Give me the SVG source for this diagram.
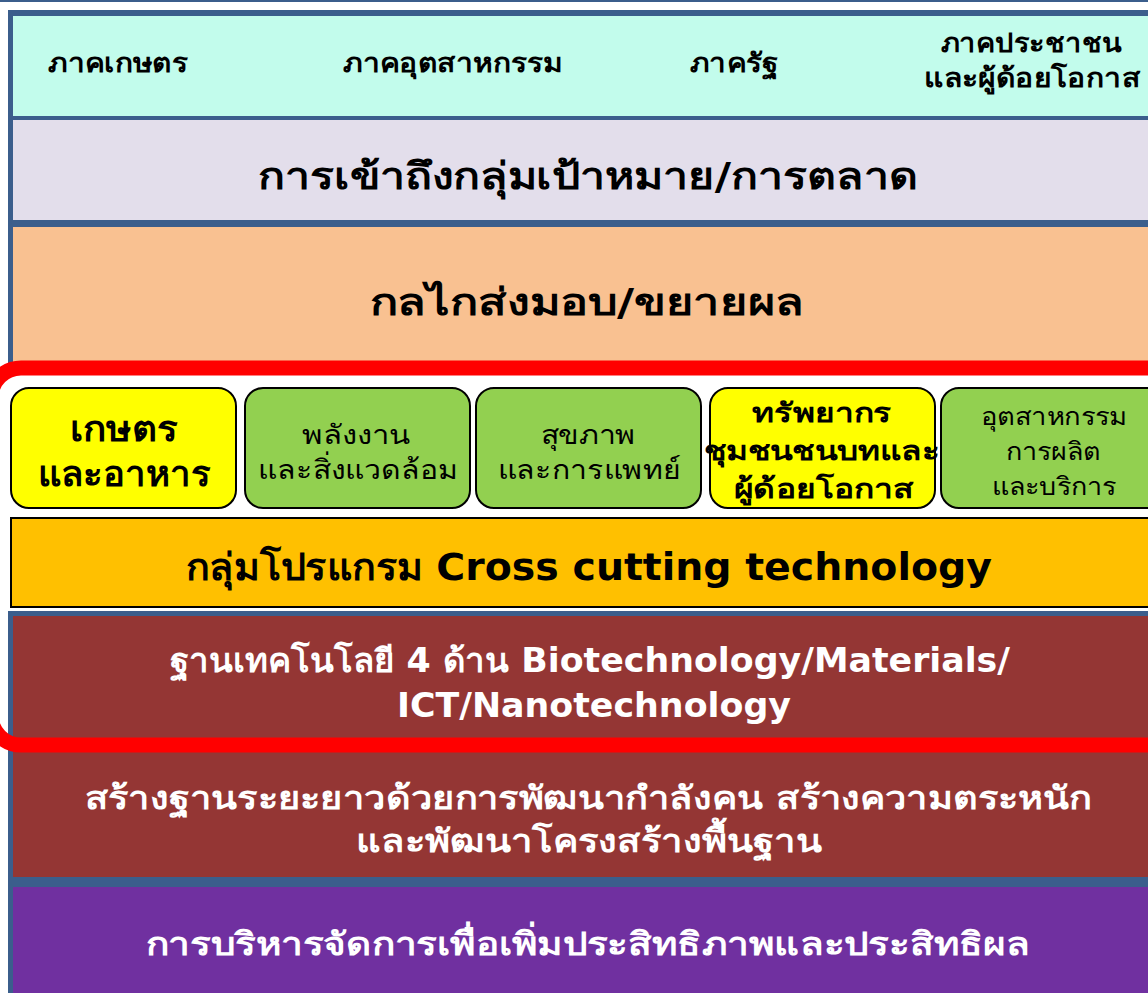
<svg xmlns="http://www.w3.org/2000/svg" width="1148" height="993" viewBox="0 0 1148 993">
  <style>
    .t { font-family: "Tahoma", "DejaVu Sans", "Noto Sans", sans-serif; text-anchor: middle; }
    .b { font-weight: bold; }
    .k { fill: #000000; }
    .w { fill: #FFFFFF; }
    .box { stroke: #000000; stroke-width: 2; }
    .yel { fill: #FFFF00; }
    .grn { fill: #92D050; }
  </style>
  <rect x="0" y="0" width="1148" height="993" fill="#FFFFFF"/>
  <rect x="0" y="0" width="1148" height="2" fill="#3B5E8C"/>

  <g id="band-sectors">
    <rect x="8" y="10" width="1160" height="357" fill="#3B5E8C"/>
    <rect x="13" y="16" width="1150" height="100" fill="#C2FCEC"/>
    <text class="t b k" x="118" y="72" font-size="26" textLength="140" lengthAdjust="spacingAndGlyphs">ภาคเกษตร</text>
    <text class="t b k" x="453" y="72" font-size="26" textLength="220" lengthAdjust="spacingAndGlyphs">ภาคอุตสาหกรรม</text>
    <text class="t b k" x="734" y="72" font-size="26" textLength="88" lengthAdjust="spacingAndGlyphs">ภาครัฐ</text>
    <text class="t b k" x="1031" y="52" font-size="26" textLength="181" lengthAdjust="spacingAndGlyphs">ภาคประชาชน</text>
    <text class="t b k" x="1032" y="87" font-size="26" textLength="216" lengthAdjust="spacingAndGlyphs">และผู้ด้อยโอกาส</text>
  </g>

  <g id="band-access">
    <rect x="13" y="120" width="1150" height="100" fill="#E3DEEB"/>
    <text class="t b k" x="588" y="189" font-size="37" textLength="660" lengthAdjust="spacingAndGlyphs">การเข้าถึงกลุ่มเป้าหมาย/การตลาด</text>
  </g>

  <g id="band-delivery">
    <rect x="13" y="227" width="1150" height="140" fill="#F9C191"/>
    <text class="t b k" x="587" y="315" font-size="37" textLength="435" lengthAdjust="spacingAndGlyphs">กลไกส่งมอบ/ขยายผล</text>
  </g>

  <g id="node-agri">
    <rect class="box yel" x="11" y="388" width="225" height="120" rx="18"/>
    <text class="t b k" x="124" y="441" font-size="35" textLength="108" lengthAdjust="spacingAndGlyphs">เกษตร</text>
    <text class="t b k" x="124" y="486" font-size="35" textLength="173" lengthAdjust="spacingAndGlyphs">และอาหาร</text>
  </g>
  <g id="node-energy">
    <rect class="box grn" x="245" y="388" width="225" height="120" rx="18"/>
    <text class="t k" x="356" y="444" font-size="27" textLength="108" lengthAdjust="spacingAndGlyphs">พลังงาน</text>
    <text class="t k" x="358" y="479" font-size="27" textLength="200" lengthAdjust="spacingAndGlyphs">และสิ่งแวดล้อม</text>
  </g>
  <g id="node-health">
    <rect class="box grn" x="476" y="388" width="225" height="120" rx="18"/>
    <text class="t k" x="588" y="444" font-size="27" textLength="95" lengthAdjust="spacingAndGlyphs">สุขภาพ</text>
    <text class="t k" x="589" y="479" font-size="27" textLength="183" lengthAdjust="spacingAndGlyphs">และการแพทย์</text>
  </g>
  <g id="node-community">
    <rect class="box yel" x="710" y="388" width="225" height="120" rx="18"/>
    <text class="t b k" x="822" y="422" font-size="27" textLength="140" lengthAdjust="spacingAndGlyphs">ทรัพยากร</text>
    <text class="t b k" x="822" y="460" font-size="27" textLength="237" lengthAdjust="spacingAndGlyphs">ชุมชนชนบทและ</text>
    <text class="t b k" x="823" y="498" font-size="27" textLength="179" lengthAdjust="spacingAndGlyphs">ผู้ด้อยโอกาส</text>
  </g>
  <g id="node-industry">
    <rect class="box grn" x="941" y="388" width="230" height="120" rx="18"/>
    <text class="t k" x="1054" y="425" font-size="25" textLength="146" lengthAdjust="spacingAndGlyphs">อุตสาหกรรม</text>
    <text class="t k" x="1053" y="460" font-size="25" textLength="95" lengthAdjust="spacingAndGlyphs">การผลิต</text>
    <text class="t k" x="1054" y="495" font-size="25" textLength="124" lengthAdjust="spacingAndGlyphs">และบริการ</text>
  </g>

  <g id="band-crosscutting">
    <rect x="11" y="518" width="1160" height="89" fill="#FFC000" stroke="#000000" stroke-width="2"/>
    <text class="t b k" x="589" y="580" font-size="37" textLength="806" lengthAdjust="spacingAndGlyphs">กลุ่มโปรแกรม Cross cutting technology</text>
  </g>

  <g id="band-platform">
    <rect x="8" y="611" width="1160" height="382" fill="#3B5E8C"/>
    <rect x="13" y="616" width="1150" height="261" fill="#943634"/>
    <text class="t b w" x="590" y="672" font-size="33" textLength="840" lengthAdjust="spacingAndGlyphs">ฐานเทคโนโลยี 4 ด้าน Biotechnology/Materials/</text>
    <text class="t b w" x="594" y="717" font-size="33" textLength="394" lengthAdjust="spacingAndGlyphs">ICT/Nanotechnology</text>
  </g>

  <g id="band-longterm">
    <text class="t b w" x="588" y="809" font-size="32" textLength="1007" lengthAdjust="spacingAndGlyphs">สร้างฐานระยะยาวด้วยการพัฒนากำลังคน สร้างความตระหนัก</text>
    <text class="t b w" x="589" y="852" font-size="32" textLength="466" lengthAdjust="spacingAndGlyphs">และพัฒนาโครงสร้างพื้นฐาน</text>
  </g>

  <g id="band-management">
    <rect x="13" y="887" width="1150" height="110" fill="#7030A0"/>
    <text class="t b w" x="588" y="955" font-size="32" textLength="885" lengthAdjust="spacingAndGlyphs">การบริหารจัดการเพื่อเพิ่มประสิทธิภาพและประสิทธิผล</text>
  </g>

  <g id="connectors">
    <rect x="-9" y="368" width="1220" height="377" rx="30" fill="none" stroke="#FF0000" stroke-width="15"/>
  </g>
</svg>
